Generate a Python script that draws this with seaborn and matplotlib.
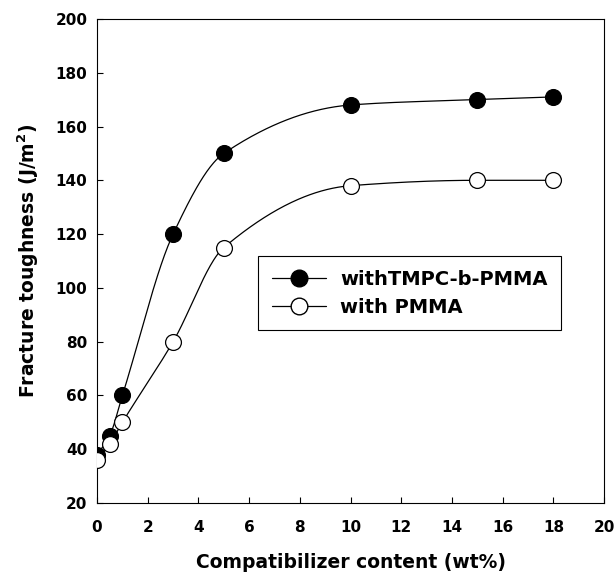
import numpy as np
import pandas as pd
import matplotlib
matplotlib.use("Agg")
import matplotlib.pyplot as plt
import seaborn as sns
from matplotlib.lines import Line2D

content = [0, 0.5, 1, 3, 5, 10, 15, 18]
tmpc_b_pmma = [38, 45, 60, 120, 150, 168, 170, 171]
pmma = [36, 42, 50, 80, 115, 138, 140, 140]
labels = ["withTMPC-b-PMMA", "with PMMA"]
x_ticks = [0, 2, 4, 6, 8, 10, 12, 14, 16, 18, 20]
y_ticks = [20, 40, 60, 80, 100, 120, 140, 160, 180, 200]


def pchip(x, y, n=400):
    x = np.asarray(x, float)
    y = np.asarray(y, float)
    h = np.diff(x)
    d = np.diff(y) / h
    m = np.zeros_like(y)
    for k in range(1, len(x) - 1):
        if d[k - 1] * d[k] <= 0:
            m[k] = 0
        else:
            w1 = 2 * h[k] + h[k - 1]
            w2 = h[k] + 2 * h[k - 1]
            m[k] = (w1 + w2) / (w1 / d[k - 1] + w2 / d[k])
    m[0] = d[0]
    m[-1] = d[-1]
    xs = np.linspace(x[0], x[-1], n)
    idx = np.clip(np.searchsorted(x, xs) - 1, 0, len(h) - 1)
    t = (xs - x[idx]) / h[idx]
    h00 = 2 * t**3 - 3 * t**2 + 1
    h10 = t**3 - 2 * t**2 + t
    h01 = -2 * t**3 + 3 * t**2
    h11 = t**3 - t**2
    ys = h00 * y[idx] + h10 * h[idx] * m[idx] + h01 * y[idx + 1] + h11 * h[idx] * m[idx + 1]
    return xs, ys


sns.set_style("ticks")
plt.rcParams["font.family"] = ["DejaVu Sans"]
plt.rcParams["font.weight"] = "bold"
plt.rcParams["mathtext.default"] = "bf"
for key in ["text.color", "axes.labelcolor", "xtick.color", "ytick.color", "axes.edgecolor"]:
    plt.rcParams[key] = "black"

fig = plt.figure(figsize=(6.14, 5.73), dpi=100)
ax = fig.add_axes([0.158, 0.122, 0.826, 0.845])

for vals, face in [(tmpc_b_pmma, "black"), (pmma, "white")]:
    xs, ys = pchip(content, vals)
    sns.lineplot(x=xs, y=ys, ax=ax, color="black", lw=0.9, sort=False, zorder=2)
    sns.scatterplot(x=content, y=vals, ax=ax, s=130, color=face,
                    edgecolor="black", linewidth=0.9, zorder=3)

ax.set_xlim(0, 20)
ax.set_ylim(20, 200)
ax.set_xticks(x_ticks)
ax.set_yticks(y_ticks)
ax.tick_params(direction="in", length=4, width=0.8, labelsize=11, colors="black")
ax.tick_params(axis="x", pad=12)
ax.tick_params(axis="y", pad=7)
for lab in ax.get_xticklabels() + ax.get_yticklabels():
    lab.set_fontweight("bold")
for sp in ax.spines.values():
    sp.set_linewidth(0.8)
    sp.set_color("black")
    sp.set_visible(True)

ax.set_xlabel("Compatibilizer content (wt%)", fontsize=13.5, fontweight="bold", labelpad=13)
ax.set_ylabel("Fracture toughness (J/m$^\\mathbf{2}$)", fontsize=13.5, fontweight="bold", labelpad=10)

handles = [
    Line2D([], [], color="black", lw=0.9, marker="o", markersize=12,
           markerfacecolor="black", markeredgecolor="black"),
    Line2D([], [], color="black", lw=0.9, marker="o", markersize=12,
           markerfacecolor="white", markeredgecolor="black"),
]
leg = ax.legend(handles, labels, loc="upper left", bbox_to_anchor=(0.318, 0.51),
                fancybox=False, framealpha=1, edgecolor="black", handlelength=2.8,
                prop={"size": 14, "weight": "bold"}, borderpad=0.7, labelspacing=0.45,
                handletextpad=0.7, borderaxespad=0)
leg.get_frame().set_linewidth(0.8)
for t in leg.get_texts():
    t.set_color("black")

fig.savefig("out.png", dpi=100)
